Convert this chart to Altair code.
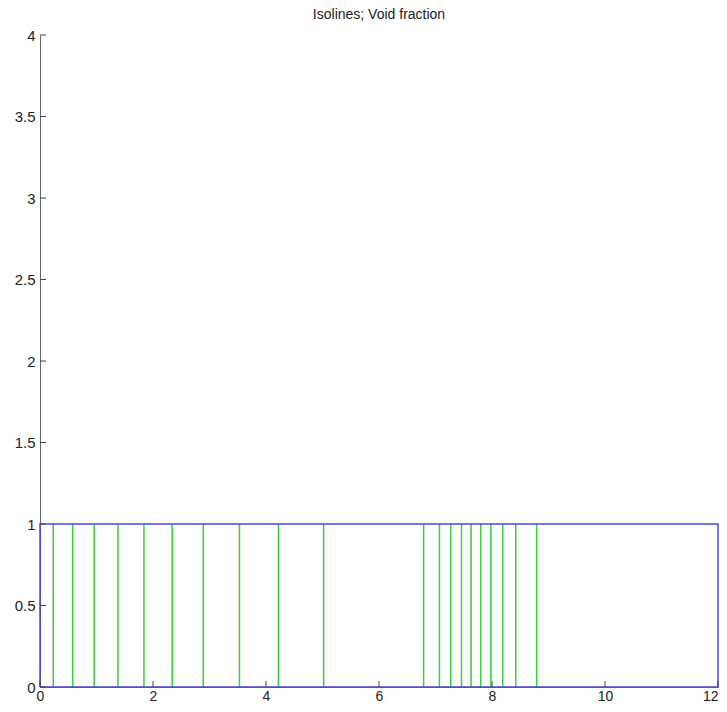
import altair as alt
import pandas as pd

# Isoline x-positions (data units), each running from y=0 to y=1
iso_x = [0.235, 0.578, 0.96, 1.38, 1.84, 2.34, 2.89, 3.53, 4.22, 5.02,
         6.79, 7.07, 7.27, 7.46, 7.63, 7.80, 7.98, 8.19, 8.42, 8.79]
iso_y0 = [0] * len(iso_x)
iso_y1 = [1] * len(iso_x)

# Domain box
box_x = [0, 12, 12, 0, 0]
box_y = [0, 0, 1, 1, 0]

x_ticks = [0, 2, 4, 6, 8, 10, 12]
y_ticks = [0, 0.5, 1, 1.5, 2, 2.5, 3, 3.5, 4]

W, H = 678, 652
FONT = "Liberation Sans"

iso = pd.DataFrame({"x": iso_x, "y0": iso_y0, "y1": iso_y1})
box = pd.DataFrame({"x": box_x, "y": box_y, "o": list(range(len(box_x)))})
xt = pd.DataFrame({"v": x_ticks})
yt = pd.DataFrame({"v": y_ticks})

xscale = alt.Scale(domain=[0, 12], nice=False, zero=False)
yscale = alt.Scale(domain=[0, 4], nice=False, zero=False)

xaxis = alt.Axis(values=x_ticks, ticks=False, grid=False, title=None,
                 labelExpr="'' + datum.value", labelFontSize=14, labelFont=FONT,
                 labelColor="#222", labelPadding=2, domainColor="#666",
                 labelFlush=False,
                 labelAlign={"condition": {"test": "datum.value == 12", "value": "right"},
                             "value": "center"})
yaxis = alt.Axis(values=y_ticks, ticks=False, grid=False, title=None,
                 labelExpr="'' + datum.value", labelFontSize=15, labelFont=FONT,
                 labelColor="#222", labelPadding=5, domainColor="#666",
                 labelFlush=False)

base_axes = alt.Chart(yt).mark_rule(opacity=0).encode(
    x=alt.X("v:Q", scale=xscale, axis=xaxis),
    y=alt.Y("v:Q", scale=yscale, axis=yaxis),
)

lines = alt.Chart(iso).mark_rule(color="#3ccc3c", strokeWidth=1.5).encode(
    x=alt.X("x:Q", scale=xscale),
    y=alt.Y("y0:Q", scale=yscale),
    y2="y1:Q",
)

rect = alt.Chart(box).mark_line(color="#4a4ad6", strokeWidth=1.5).encode(
    x=alt.X("x:Q", scale=xscale),
    y=alt.Y("y:Q", scale=yscale),
    order="o:Q",
)

xtick_marks = alt.Chart(xt).mark_rule(color="#444", strokeWidth=1).encode(
    x=alt.X("v:Q", scale=xscale),
    y=alt.value(H),
    y2=alt.value(H - 6),
)
ytick_marks = alt.Chart(yt).mark_rule(color="#444", strokeWidth=1).encode(
    y=alt.Y("v:Q", scale=yscale),
    x=alt.value(0),
    x2=alt.value(6),
)

chart = alt.layer(base_axes, lines, rect, xtick_marks, ytick_marks).properties(
    width=W, height=H,
    title=alt.TitleParams("Isolines; Void fraction", fontSize=14, font=FONT,
                          fontWeight="normal", color="#222", offset=6,
                          frame="group"),
    autosize=alt.AutoSizeParams(type="none"),
    padding={"left": 32, "top": 27, "right": 1, "bottom": 17},
).configure_view(stroke=None)

chart.save("out.html", embed_options={"renderer": "svg", "actions": False})
